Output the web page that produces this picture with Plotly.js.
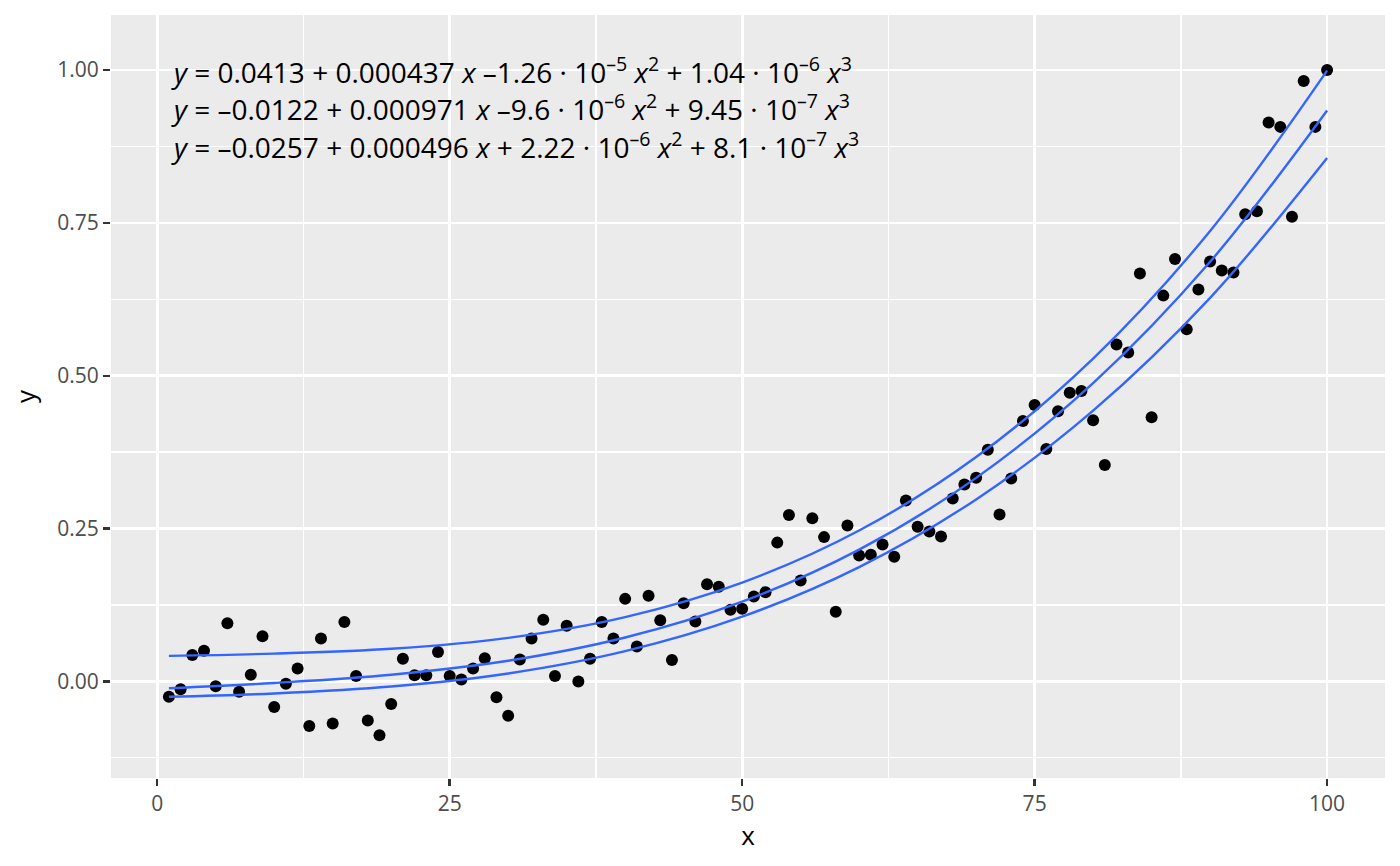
<!DOCTYPE html>
<html>
<head>
<meta charset="utf-8">
<script src="https://cdn.plot.ly/plotly-3.0.1.min.js"></script>
<style>html,body{margin:0;padding:0;background:#fff;}#chart{width:1400px;height:866px;}</style>
</head>
<body>
<div id="chart"></div>
<script>
// observed points
const xs = [1,2,3,4,5,6,7,8,9,10,11,12,13,14,15,16,17,18,19,20,21,22,23,24,25,26,27,28,29,30,31,32,33,34,35,36,37,38,39,40,41,42,43,44,45,46,47,48,49,50,51,52,53,54,55,56,57,58,59,60,61,62,63,64,65,66,67,68,69,70,71,72,73,74,75,76,77,78,79,80,81,82,83,84,85,86,87,88,89,90,91,92,93,94,95,96,97,98,99,100];
const ys = [-0.025,-0.013,0.043,0.050,-0.008,0.095,-0.017,0.011,0.074,-0.042,
            -0.004,0.021,-0.073,0.070,-0.069,0.097,0.009,-0.064,-0.088,-0.037,
            0.037,0.010,0.010,0.048,0.009,0.003,0.021,0.038,-0.026,-0.056,
            0.036,0.070,0.101,0.009,0.091,0.000,0.037,0.097,0.070,0.135,
            0.057,0.140,0.100,0.035,0.128,0.098,0.159,0.155,0.117,0.119,
            0.139,0.146,0.227,0.272,0.165,0.267,0.236,0.114,0.255,0.206,
            0.207,0.224,0.204,0.296,0.253,0.245,0.237,0.299,0.322,0.333,
            0.379,0.273,0.332,0.426,0.452,0.380,0.442,0.472,0.475,0.427,
            0.354,0.551,0.538,0.667,0.432,0.631,0.691,0.576,0.641,0.687,
            0.672,0.669,0.764,0.769,0.914,0.907,0.760,0.982,0.907,1.000];

// fitted quantile curves
const curveX = [1,10,20,30,40,50,60,70,80,90,100];
const curveUpper = [0.0417,0.0455,0.0533,0.0712,0.1052,0.1617,0.2468,0.3669,0.5281,0.7367,0.9990];
const curveMid   = [-0.0112,-0.0025,0.0109,0.0338,0.0718,0.1305,0.2156,0.3329,0.4879,0.6863,0.9339];
const curveLower = [-0.0252,-0.0197,-0.0084,0.0130,0.0495,0.1059,0.1870,0.2977,0.4429,0.6274,0.8561];

// equation labels
const eqLabels = [
  "<i>y</i> = 0.0413 + 0.000437 <i>x</i> –1.26 · 10<sup>–5</sup> <i>x</i><sup>2</sup> + 1.04 · 10<sup>–6</sup> <i>x</i><sup>3</sup>",
  "<i>y</i> = –0.0122 + 0.000971 <i>x</i> –9.6 · 10<sup>–6</sup> <i>x</i><sup>2</sup> + 9.45 · 10<sup>–7</sup> <i>x</i><sup>3</sup>",
  "<i>y</i> = –0.0257 + 0.000496 <i>x</i> + 2.22 · 10<sup>–6</sup> <i>x</i><sup>2</sup> + 8.1 · 10<sup>–7</sup> <i>x</i><sup>3</sup>"
];
const eqY = [1.0, 0.938, 0.876];

const lineStyle = {color:'#3366FF', width:2.4, shape:'spline'};
const traces = [
  {x: xs, y: ys, type:'scatter', mode:'markers', marker:{color:'#000000', size:12}, hoverinfo:'skip'},
  {x: curveX, y: curveUpper, type:'scatter', mode:'lines', line: lineStyle},
  {x: curveX, y: curveMid, type:'scatter', mode:'lines', line: lineStyle},
  {x: curveX, y: curveLower, type:'scatter', mode:'lines', line: lineStyle}
];

const annotations = eqLabels.map((t,i)=>({
  text: t, xref:'x', yref:'y', x: 1.0, y: eqY[i], xanchor:'left', yanchor:'middle',
  showarrow:false, font:{family:'Open Sans', size:28, color:'#000000'}
}));

const axisCommon = {
  showline:false, zeroline:false, ticks:'outside', ticklen:7, tickwidth:2.4, tickcolor:'#333333',
  gridcolor:'#FFFFFF', gridwidth:2.7,
  tickfont:{family:'Open Sans', size:21, color:'#4D4D4D'}
};

const layout = {
  width:1400, height:866,
  paper_bgcolor:'#FFFFFF', plot_bgcolor:'#EBEBEB',
  margin:{l:111, r:15, t:15, b:88},
  showlegend:false,
  font:{family:'Open Sans'},
  xaxis: Object.assign({}, axisCommon, {
    range:[-3.95,104.95], tick0:0, dtick:25,
    minor:{tick0:0, dtick:12.5, showgrid:true, gridcolor:'#FFFFFF', gridwidth:1.3},
    title:{text:'x', font:{family:'Open Sans', size:26, color:'#000000'}, standoff:7}
  }),
  yaxis: Object.assign({}, axisCommon, {
    range:[-0.158,1.090], tick0:0, dtick:0.25, tickformat:'.2f',
    minor:{tick0:0, dtick:0.125, showgrid:true, gridcolor:'#FFFFFF', gridwidth:1.3},
    title:{text:'y', font:{family:'Open Sans', size:26, color:'#000000'}, standoff:14}
  }),
  annotations: annotations
};

Plotly.newPlot('chart', traces, layout, {displayModeBar:false, staticPlot:true});
</script>
</body>
</html>
